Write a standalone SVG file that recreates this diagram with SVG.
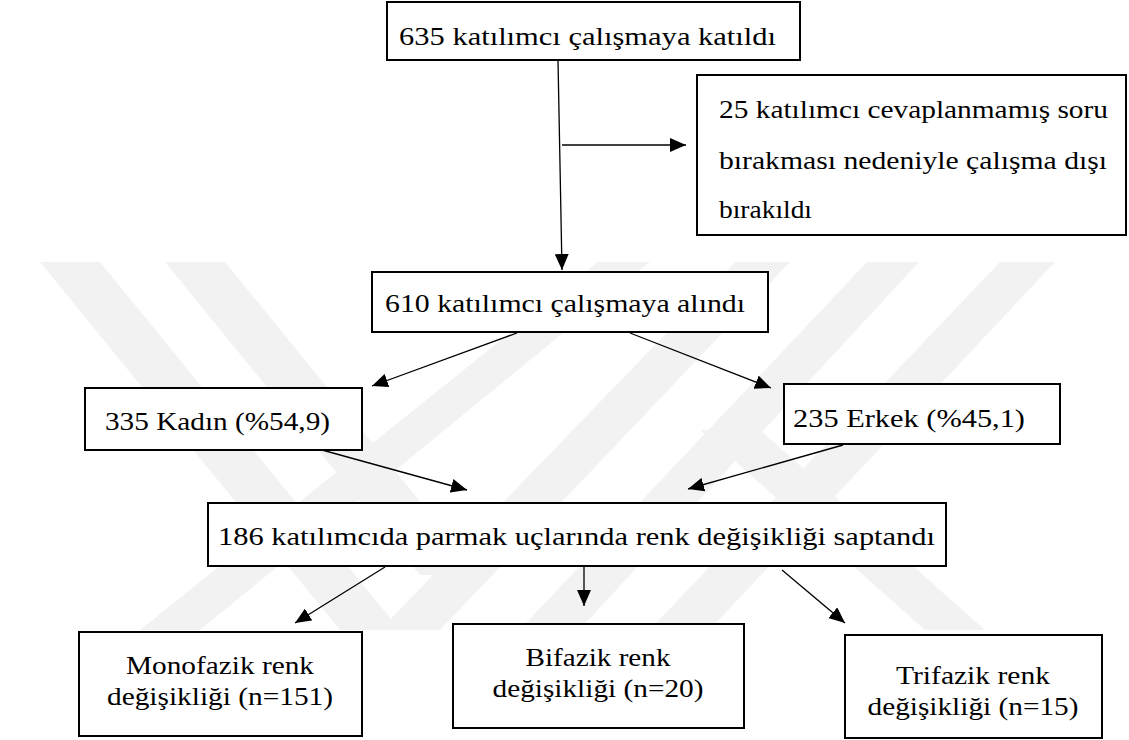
<svg xmlns="http://www.w3.org/2000/svg" width="1129" height="740" viewBox="0 0 1129 740">
<style>
  .box { fill: #ffffff; stroke: #000000; stroke-width: 2; }
  .t { font-family: "Liberation Serif", "Times New Roman", serif; font-size: 26px; fill: #000000; }
  .c { text-anchor: middle; }
  .edge { stroke: #000000; stroke-width: 1.3; fill: none; marker-end: url(#arrow); }
  .wm { fill: #f2f2f2; }
</style>
<defs>
  <marker id="arrow" markerUnits="userSpaceOnUse" markerWidth="17" markerHeight="14" refX="16" refY="7" orient="auto">
    <path d="M0,0 L16,7 L0,14 z" fill="#000000"/>
  </marker>
</defs>
<rect x="0" y="0" width="1129" height="740" fill="#ffffff"/>
<g id="watermark">
  <polygon class="wm" points="40,262 100,262 400,630 340,630"/>
  <polygon class="wm" points="165,262 225,262 480,575 420,575"/>
  <polygon class="wm" points="598,262 650,262 200,630 140,630"/>
  <polygon class="wm" points="735,262 790,262 440,630 380,630"/>
  <polygon class="wm" points="867,262 919,262 570,640 510,640"/>
  <polygon class="wm" points="1000,262 1055,262 700,640 640,640"/>
  <polygon class="wm" points="700,430 760,430 985,630 925,630"/>
</g>
<g id="connectors">
  <line class="edge" x1="558" y1="60" x2="562" y2="270"/>
  <line class="edge" x1="562" y1="145" x2="686" y2="145"/>
  <line class="edge" x1="517" y1="333" x2="372" y2="386"/>
  <line class="edge" x1="630" y1="333" x2="771" y2="388"/>
  <line class="edge" x1="322" y1="450" x2="467" y2="490"/>
  <line class="edge" x1="843" y1="445" x2="688" y2="489"/>
  <line class="edge" x1="385" y1="567" x2="295" y2="623"/>
  <line class="edge" x1="584" y1="567" x2="584" y2="606"/>
  <line class="edge" x1="782" y1="570" x2="845" y2="623"/>
</g>
<g id="n1">
  <rect class="box" x="387" y="2" width="413" height="58"/>
  <text class="t" x="399" y="45" textLength="377" lengthAdjust="spacingAndGlyphs">635 katılımcı çalışmaya katıldı</text>
</g>
<g id="n2">
  <rect class="box" x="697" y="75" width="429" height="160"/>
  <text class="t" x="719" y="118" textLength="389" lengthAdjust="spacingAndGlyphs">25 katılımcı cevaplanmamış soru</text>
  <text class="t" x="719" y="169" textLength="388" lengthAdjust="spacingAndGlyphs">bırakması nedeniyle çalışma dışı</text>
  <text class="t" x="719" y="218" textLength="93" lengthAdjust="spacingAndGlyphs">bırakıldı</text>
</g>
<g id="n3">
  <rect class="box" x="372" y="272" width="396" height="60"/>
  <text class="t" x="385" y="312" textLength="360" lengthAdjust="spacingAndGlyphs">610 katılımcı çalışmaya alındı</text>
</g>
<g id="n4">
  <rect class="box" x="85" y="388" width="277" height="62"/>
  <text class="t" x="105" y="430" textLength="225" lengthAdjust="spacingAndGlyphs">335 Kadın (%54,9)</text>
</g>
<g id="n5">
  <rect class="box" x="784" y="384" width="276" height="60"/>
  <text class="t" x="793" y="427" textLength="232" lengthAdjust="spacingAndGlyphs">235 Erkek (%45,1)</text>
</g>
<g id="n6">
  <rect class="box" x="208" y="503" width="738" height="63"/>
  <text class="t" x="218" y="545" textLength="717" lengthAdjust="spacingAndGlyphs">186 katılımcıda parmak uçlarında renk değişikliği saptandı</text>
</g>
<g id="n7">
  <rect class="box" x="79" y="632" width="283" height="104"/>
  <text class="t c" x="220" y="674" textLength="188" lengthAdjust="spacingAndGlyphs">Monofazik renk</text>
  <text class="t c" x="220" y="705" textLength="226" lengthAdjust="spacingAndGlyphs">değişikliği (n=151)</text>
</g>
<g id="n8">
  <rect class="box" x="453" y="624" width="291" height="104"/>
  <text class="t c" x="598" y="666" textLength="145" lengthAdjust="spacingAndGlyphs">Bifazik renk</text>
  <text class="t c" x="598" y="697" textLength="211" lengthAdjust="spacingAndGlyphs">değişikliği (n=20)</text>
</g>
<g id="n9">
  <rect class="box" x="845" y="635" width="257" height="103"/>
  <text class="t c" x="973" y="684" textLength="154" lengthAdjust="spacingAndGlyphs">Trifazik renk</text>
  <text class="t c" x="973" y="715" textLength="211" lengthAdjust="spacingAndGlyphs">değişikliği (n=15)</text>
</g>
</svg>
